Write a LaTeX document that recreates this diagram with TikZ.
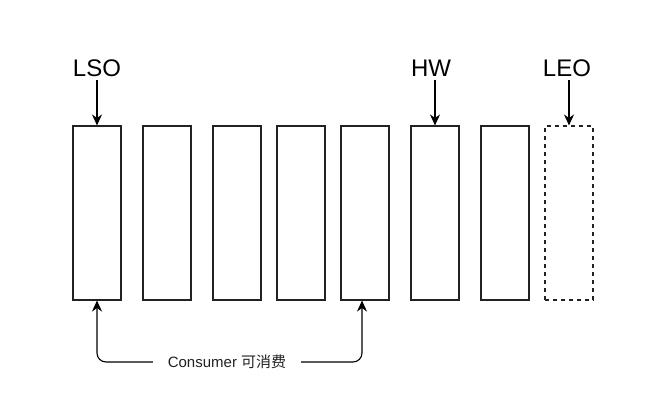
\documentclass[tikz,border=0pt]{standalone}
\usepackage{fontspec}
\setmainfont{Liberation Sans}
\newfontfamily\cjk{Noto Sans CJK SC}
\usetikzlibrary{arrows.meta}
\definecolor{edge}{HTML}{222222}
\tikzset{
  slot/.style={draw=edge, line width=1.1pt, minimum width=48pt, minimum height=174pt, inner sep=0pt, fill=white},
  ghost/.style={slot, dash pattern=on 4pt off 4pt},
  tag/.style={font=\fontsize{24pt}{28pt}\selectfont, inner sep=3pt, text=black},
  conn/.style={draw=black, line width=1.1pt, -{Stealth[length=11pt,width=10pt]}},
  note/.style={font=\fontsize{15pt}{18pt}\selectfont, fill=white, inner xsep=15pt, inner ysep=2pt, text=edge}
}
\begin{document}
\begin{tikzpicture}[x=1pt,y=-1pt]
\useasboundingbox (0,0) rectangle (656,412);
\node[slot]  (b1) at (97,213) {};
\node[slot]  (b2) at (167,213) {};
\node[slot]  (b3) at (237,213) {};
\node[slot]  (b4) at (301,213) {};
\node[slot]  (b5) at (365,213) {};
\node[slot]  (b6) at (435,213) {};
\node[slot]  (b7) at (505,213) {};
\node[ghost] (b8) at (569,213) {};
\node[tag] (lso) at (97,68.5) {LSO};
\node[tag] (hw)  at (431,68.5) {HW};
\node[tag] (leo) at (567,68.5) {LEO};
\draw[conn] (b1.north |- lso.south) -- (b1.north);
\draw[conn] (b6.north |- hw.south) -- (b6.north);
\draw[conn] (b8.north |- leo.south) -- (b8.north);
\coordinate (c1) at (97,362);
\coordinate (c5) at (362,362);
\draw[conn, {Stealth[length=11pt,width=10pt]}-{Stealth[length=11pt,width=10pt]}, rounded corners=9pt]
  (b1.south) -- (c1) -- (c5) -- (b5.south -| c5);
\node[note] (lbl) at (227,362) {Consumer {\cjk 可消费}};
\end{tikzpicture}
\end{document}
